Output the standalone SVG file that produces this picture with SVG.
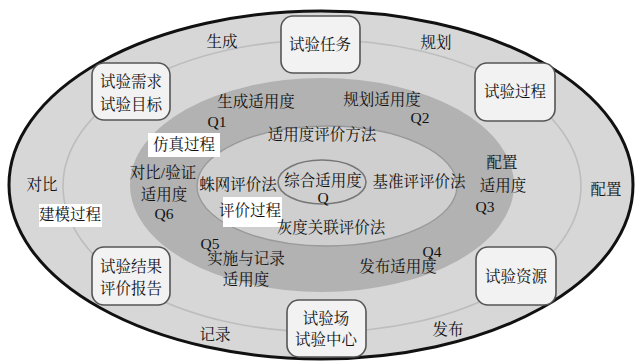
<svg xmlns="http://www.w3.org/2000/svg" width="636" height="364" viewBox="0 0 636 364">
<style>
text{font-family:"Liberation Serif","Noto Serif CJK SC","Noto Sans CJK SC",serif;font-size:15.5px;fill:#111;text-anchor:middle}
.box{fill:#f2f2f2;stroke:#555;stroke-width:1.6}
.hl{fill:#ffffff}
</style>
<rect width="636" height="364" fill="#ffffff"/>
<g id="rings">
<ellipse cx="321" cy="185" rx="312" ry="174" fill="#d7d7d7" stroke="#111" stroke-width="3"/>
<ellipse cx="322" cy="186" rx="259" ry="146" fill="none" stroke="#bdbdbd" stroke-width="1.6"/>
<ellipse cx="322" cy="185" rx="192" ry="107" fill="#b2b2b2"/>
<ellipse cx="327" cy="186" rx="130" ry="60" fill="#cfcfcf" stroke="#999" stroke-width="1.4"/>
<ellipse cx="322" cy="182" rx="44" ry="22" fill="#cfcfcf" stroke="#777" stroke-width="1.6"/>
</g>
<g id="labels">
<text x="222" y="47">生成</text>
<text x="436" y="48">规划</text>
<text x="42" y="190">对比</text>
<text x="606" y="195">配置</text>
<text x="215" y="340">记录</text>
<text x="448" y="335">发布</text>
<text x="256" y="107">生成适用度</text>
<text x="217" y="127">Q1</text>
<text x="382" y="105">规划适用度</text>
<text x="420" y="123">Q2</text>
<text x="322" y="140">适用度评价方法</text>
<rect class="hl" x="148" y="133" width="72" height="24"/>
<text x="184" y="150">仿真过程</text>
<text x="163" y="178">对比/验证</text>
<text x="164" y="200">适用度</text>
<text x="164" y="219">Q6</text>
<rect class="hl" x="39" y="204" width="63" height="23"/>
<text x="70" y="220">建模过程</text>
<text x="238" y="190">蛛网评价法</text>
<text x="323" y="186">综合适用度</text>
<text x="323" y="203">Q</text>
<text x="419" y="187">基准评评价法</text>
<rect class="hl" x="223" y="197" width="59" height="30"/>
<text x="250" y="216">评价过程</text>
<text x="331" y="233">灰度关联评价法</text>
<text x="210" y="249">Q5</text>
<text x="246" y="264">实施与记录</text>
<text x="246" y="285">适用度</text>
<text x="502" y="168">配置</text>
<text x="503" y="191">适用度</text>
<text x="485" y="212">Q3</text>
<text x="432" y="257">Q4</text>
<text x="398" y="272">发布适用度</text>
</g>
<g id="n-task">
<rect class="box" x="281" y="16" width="79" height="57" rx="12"/>
<text x="320" y="50">试验任务</text>
</g>
<g id="n-req">
<rect class="box" x="92" y="63" width="78" height="57" rx="12"/>
<text x="131" y="87">试验需求</text>
<text x="131" y="110">试验目标</text>
</g>
<g id="n-proc">
<rect class="box" x="475" y="63" width="80" height="58" rx="12"/>
<text x="515" y="97">试验过程</text>
</g>
<g id="n-result">
<rect class="box" x="92" y="247" width="78" height="58" rx="12"/>
<text x="131" y="272">试验结果</text>
<text x="131" y="294">评价报告</text>
</g>
<g id="n-res">
<rect class="box" x="476" y="247" width="80" height="58" rx="12"/>
<text x="516" y="282">试验资源</text>
</g>
<g id="n-site">
<rect class="box" x="287" y="300" width="79" height="57" rx="12"/>
<text x="326" y="324">试验场</text>
<text x="326" y="345">试验中心</text>
</g>
<g id="connectors"></g>
</svg>
